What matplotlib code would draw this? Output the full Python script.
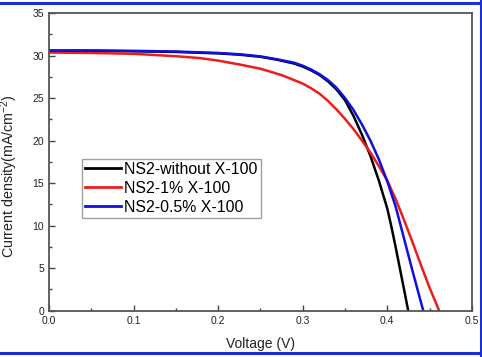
import numpy as np
import matplotlib.pyplot as plt
from matplotlib.lines import Line2D
from matplotlib.ticker import MultipleLocator

plt.rcParams['font.family'] = ['Liberation Sans', 'DejaVu Sans']
plt.rcParams['mathtext.default'] = 'regular'

# J-V curves (V in volts, J in mA/cm2)
v_black = [0.0, 0.05, 0.10, 0.15, 0.20, 0.225, 0.25, 0.27, 0.29, 0.30, 0.31, 0.32, 0.33, 0.34, 0.35,
           0.36, 0.37, 0.38, 0.39, 0.40, 0.405, 0.41, 0.415, 0.42, 0.4247]
j_black = [30.55, 30.55, 30.5, 30.42, 30.25, 30.1, 29.85, 29.5, 29.05, 28.7, 28.25, 27.7, 26.95, 26.0, 24.75,
           22.9, 20.7, 18.2, 15.3, 12.0, 9.8, 7.4, 4.9, 2.4, 0.0]

v_red = [0.0, 0.05, 0.10, 0.15, 0.178, 0.20, 0.225, 0.25, 0.275, 0.30, 0.31, 0.32, 0.33, 0.34, 0.35, 0.36,
         0.37, 0.38, 0.39, 0.40, 0.41, 0.42, 0.43, 0.44, 0.45, 0.4613]
j_red = [30.35, 30.3, 30.2, 29.92, 29.7, 29.4, 28.95, 28.45, 27.7, 26.7, 26.15, 25.5, 24.65, 23.65, 22.55, 21.35,
         20.0, 18.6, 17.0, 15.3, 13.1, 10.6, 8.0, 5.3, 2.7, 0.0]

v_blue = [0.0, 0.05, 0.10, 0.15, 0.20, 0.225, 0.25, 0.27, 0.29, 0.30, 0.31, 0.32, 0.33, 0.34, 0.35,
          0.36, 0.37, 0.38, 0.39, 0.40, 0.41, 0.42, 0.43, 0.4425]
j_blue = [30.6, 30.6, 30.55, 30.47, 30.3, 30.15, 29.9, 29.55, 29.15, 28.8, 28.35, 27.8, 27.1, 26.2, 25.0,
          23.6, 21.9, 20.0, 17.8, 15.2, 12.2, 8.4, 4.6, 0.0]

labels = ['NS2-without X-100', 'NS2-1% X-100', 'NS2-0.5% X-100']

fig = plt.figure(figsize=(4.82, 3.57), dpi=100)
ax = fig.add_axes([0.1017, 0.1297, 0.8773, 0.8339])

ax.plot(v_black, j_black, color='black', lw=1.8, label=labels[0])
ax.plot(v_red, j_red, color='#ee1c1c', lw=1.8, label=labels[1])
ax.plot(v_blue, j_blue, color='#1010dd', lw=1.8, label=labels[2])

ax.set_xlim(0, 0.5)
ax.set_ylim(0, 35)
ax.xaxis.set_major_locator(MultipleLocator(0.1))
ax.xaxis.set_minor_locator(MultipleLocator(0.05))
ax.yaxis.set_major_locator(MultipleLocator(5))
ax.yaxis.set_minor_locator(MultipleLocator(2.5))
ax.xaxis.set_major_formatter(plt.FormatStrFormatter('%.1f'))
ax.tick_params(which='both', direction='in', top=False, right=False,
               colors='#444444', labelcolor='#222222', labelsize=7.5, width=1)
ax.tick_params(which='major', length=4.5)
ax.tick_params(which='minor', length=2.5)
for s in ax.spines.values():
    s.set_color('#555555')
    s.set_linewidth(1.3)

ax.set_xlabel('Voltage (V)', fontsize=10, color='#222222')
ax.xaxis.set_label_coords(0.5, -0.088)
ax.set_ylabel('Current density(mA/cm$^{-2}$)', fontsize=10.3, color='#222222', va='center')
ax.yaxis.set_label_coords(-0.093, 0.452)

leg = ax.legend(loc='lower left', bbox_to_anchor=(0.077, 0.312), fontsize=11.4,
                frameon=True, fancybox=False, handlelength=2.3, handletextpad=0.2,
                borderpad=0.2, labelspacing=0.25, borderaxespad=0)
leg.get_frame().set_edgecolor('#888888')
leg.get_frame().set_linewidth(1.0)
for h in leg.get_lines():
    h.set_linewidth(2)

# blue frame around the picture
blue = '#1a2fd6'
fig.add_artist(Line2D([0, 1], [0.991, 0.991], transform=fig.transFigure, color=blue, lw=2.2))
fig.add_artist(Line2D([0, 1], [0.011, 0.011], transform=fig.transFigure, color=blue, lw=2.2))
fig.add_artist(Line2D([0.997, 0.997], [0, 1], transform=fig.transFigure, color=blue, lw=2.2))

fig.savefig('out.png', dpi=100)
